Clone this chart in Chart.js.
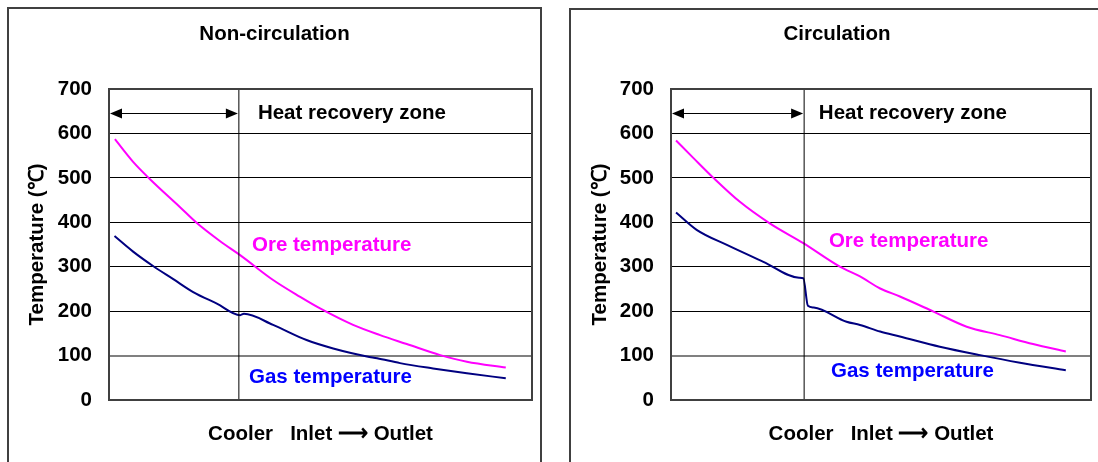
<!DOCTYPE html>
<html>
<head>
<meta charset="utf-8">
<script src="https://cdn.jsdelivr.net/npm/chart.js@4"></script>
<style>
  html, body { margin: 0; padding: 0; background: #fff; overflow: hidden; }
  body { width: 1098px; height: 462px; position: relative; }
  .panel { position: absolute; border: 2px solid #404040; box-sizing: border-box; }
  #p1 { left: 7px; top: 7px; width: 535px; height: 480px; }
  #p2 { left: 569px; top: 8px; width: 535px; height: 480px; }
  canvas { position: absolute; top: 0; }
  #c1 { left: 0; }
  #c2 { left: 560px; }
</style>
</head>
<body>
<div class="panel" id="p1"></div>
<div class="panel" id="p2"></div>
<canvas id="c1" width="549" height="462"></canvas>
<canvas id="c2" width="554" height="462"></canvas>
<script>
// position along the cooler in % of the axis, temperature in degC
const yTicks = [0, 100, 200, 300, 400, 500, 600, 700];

// Non-circulation
const oreNonCircX = [1.4, 5.7, 9.7, 16.8, 20.7, 26.2, 31.0, 38.8, 45.2, 49.9, 57.7, 64.1, 70.4, 78.3, 84.6, 93.8];
const oreNonCircT = [587, 536, 497, 434, 399, 358, 326, 270, 232, 206, 169, 146, 126, 101, 86, 73];
const gasNonCircX = [1.3, 5.7, 10.5, 15.2, 19.9, 25.5, 31.0, 31.9, 38.8, 46.7, 53.0, 61.0, 63.4, 68.8, 76.6, 84.6, 93.8];
const gasNonCircT = [369, 334, 301, 272, 243, 217, 191, 194, 169, 135, 116, 98, 94, 83, 71, 60, 49];
const zoneEndNonCirc = 30.7;

// Circulation
const oreCircX = [1.2, 5.3, 10.1, 16.4, 23.6, 31.5, 40.2, 45.0, 49.8, 54.5, 62.5, 70.4, 78.3, 86.2, 94.0];
const oreCircT = [584, 545, 500, 446, 397, 353, 300, 278, 251, 233, 199, 165, 146, 126, 109];
const gasCircX = [1.2, 6.1, 13.3, 22.0, 30.5, 31.5, 32.6, 34.0, 41.8, 45.0, 49.8, 54.5, 64.0, 73.6, 83.1, 94.0];
const gasCircT = [422, 383, 349, 311, 275, 274, 212, 208, 176, 169, 154, 143, 120, 101, 84, 67];
const zoneEndCirc = 31.7;

const FONT = '"Liberation Sans", Arial, sans-serif';
const FS = 20.5;
const ORE = '#ff00ff';
const GAS_LINE = '#000080';
const GAS_TEXT = '#0000ff';

function pts(xs, ys) {
  return xs.map((x, i) => ({ x: x, y: ys[i] }));
}

// frame, zone arrow and in-plot labels
const decorations = {
  id: 'decorations',
  afterDatasetsDraw(chart, args, opts) {
    const { ctx, chartArea: a, scales: { x, y } } = chart;
    ctx.save();
    // plot frame
    ctx.strokeStyle = '#404040';
    ctx.lineWidth = 2;
    ctx.strokeRect(a.left, a.top, a.right - a.left, a.bottom - a.top);

    // double arrow for heat recovery zone
    const ay = Math.round(y.getPixelForValue(646)) + 0.5;
    const x0 = x.getPixelForValue(0) + 1;
    const x1 = x.getPixelForValue(opts.zoneEnd) - 1;
    ctx.strokeStyle = '#000';
    ctx.lineWidth = 1;
    ctx.beginPath();
    ctx.moveTo(x0 + 6, ay);
    ctx.lineTo(x1 - 6, ay);
    ctx.stroke();
    ctx.fillStyle = '#000';
    ctx.beginPath();
    ctx.moveTo(x0, ay);
    ctx.lineTo(x0 + 12, ay - 5);
    ctx.lineTo(x0 + 12, ay + 5);
    ctx.closePath();
    ctx.fill();
    ctx.beginPath();
    ctx.moveTo(x1, ay);
    ctx.lineTo(x1 - 12, ay - 5);
    ctx.lineTo(x1 - 12, ay + 5);
    ctx.closePath();
    ctx.fill();

    ctx.font = 'bold ' + FS + 'px ' + FONT;
    ctx.textBaseline = 'middle';
    ctx.textAlign = 'left';
    opts.labels.forEach(l => {
      ctx.fillStyle = l.color;
      ctx.fillText(l.text, x.getPixelForValue(l.x), y.getPixelForValue(l.y));
    });
    ctx.restore();
  }
};

function makeChart(id, title, oreX, oreT, gasX, gasT, zoneEnd, yTitlePad, leftW, rightW, labels) {
  return new Chart(document.getElementById(id), {
    type: 'line',
    data: {
      datasets: [
        {
          label: 'Zone boundary',
          data: [{ x: zoneEnd, y: 0 }, { x: zoneEnd, y: 700 }],
          borderColor: '#000',
          borderWidth: 1,
          pointRadius: 0
        },
        {
          label: 'Ore temperature',
          data: pts(oreX, oreT),
          borderColor: ORE,
          borderWidth: 2,
          pointRadius: 0,
          cubicInterpolationMode: 'monotone'
        },
        {
          label: 'Gas temperature',
          data: pts(gasX, gasT),
          borderColor: GAS_LINE,
          borderWidth: 2,
          pointRadius: 0,
          cubicInterpolationMode: 'monotone'
        }
      ]
    },
    options: {
      responsive: false,
      animation: false,
      layout: { padding: 0 },
      plugins: {
        legend: { display: false },
        tooltip: { enabled: false },
        title: {
          display: true,
          text: title,
          color: '#000',
          font: { family: FONT, size: FS, weight: 'bold' },
          padding: { top: 22, bottom: 42.4 }
        },
        decorations: { zoneEnd: zoneEnd, labels: labels }
      },
      scales: {
        x: {
          type: 'linear',
          min: 0,
          max: 100,
          grid: { display: false },
          border: { display: false },
          ticks: { display: false },
          title: {
            display: true,
            text: 'Cooler   Inlet \u27F6 Outlet',
            color: '#000',
            font: { family: FONT, size: FS, weight: 'bold' },
            padding: { top: 0, bottom: 15 }
          },
          afterFit(scale) { scale.height = 62; }
        },
        y: {
          min: 0,
          max: 700,
          afterBuildTicks(scale) { scale.ticks = yTicks.map(v => ({ value: v })); },
          grid: {
            color: ctx => ctx.tick && ctx.tick.value === 100 ? '#808080' : '#000',
            lineWidth: ctx => ctx.tick && ctx.tick.value === 100 ? 2 : 1,
            drawTicks: false
          },
          border: { display: false },
          ticks: {
            color: '#000',
            padding: 17,
            font: { family: FONT, size: FS, weight: 'bold' }
          },
          title: {
            display: true,
            text: 'Temperature (\u2103)',
            color: '#000',
            font: { family: FONT, size: FS, weight: 'bold' },
            padding: { top: yTitlePad, bottom: 0 }
          },
          afterFit(scale) { scale.width = leftW; }
        },
        // empty right-hand spacer so the title stays centred on the panel
        spacer: {
          position: 'right',
          min: 0,
          max: 1,
          grid: { display: false },
          border: { display: false },
          ticks: { display: false },
          afterFit(scale) { scale.width = rightW; }
        }
      }
    },
    plugins: [decorations]
  });
}

makeChart('c1', 'Non-circulation', oreNonCircX, oreNonCircT, gasNonCircX, gasNonCircT, zoneEndNonCirc, 25, 109, 17, [
  { text: 'Heat recovery zone', x: 35.2, y: 646, color: '#000' },
  { text: 'Ore temperature', x: 33.8, y: 347, color: ORE },
  { text: 'Gas temperature', x: 33.1, y: 52, color: GAS_TEXT }
]);

makeChart('c2', 'Circulation', oreCircX, oreCircT, gasCircX, gasCircT, zoneEndCirc, 28, 111, 23, [
  { text: 'Heat recovery zone', x: 35.2, y: 646, color: '#000' },
  { text: 'Ore temperature', x: 37.6, y: 356, color: ORE },
  { text: 'Gas temperature', x: 38.1, y: 65, color: GAS_TEXT }
]);
</script>
</body>
</html>
